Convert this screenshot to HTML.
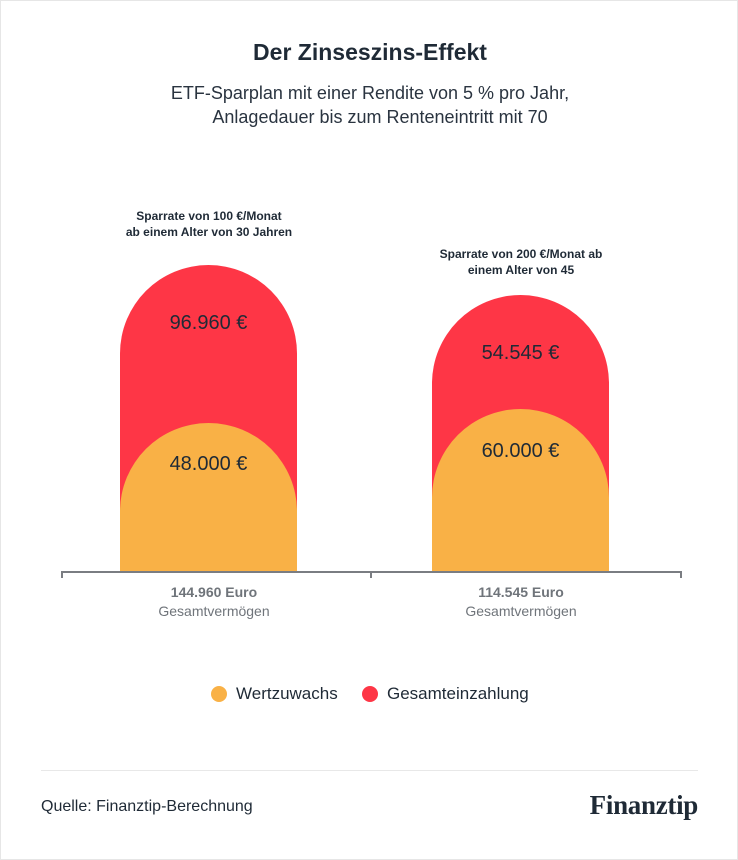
<!DOCTYPE html>
<html><head><meta charset="utf-8"><style>
body{margin:0;background:#fff;}
.c{position:relative;width:736px;height:858px;border:1px solid #e6e6e6;background:#fff;font-family:"Liberation Sans",sans-serif;color:#1f2a36;overflow:hidden;}
.t{position:absolute;text-align:center;white-space:nowrap;}
.bar{position:absolute;border-radius:89px 89px 0 0;}
</style></head><body><div class="c">
<div class="t" style="left:0;width:738px;top:38px;font-size:23px;font-weight:bold;">Der Zinseszins-Effekt</div>
<div class="t" style="left:0;width:738px;top:80px;font-size:18px;line-height:24px;color:#2a3440;">ETF-Sparplan mit einer Rendite von 5 % pro Jahr,<br>&nbsp;&nbsp;&nbsp;&nbsp;Anlagedauer bis zum Renteneintritt mit 70</div>
<div class="t" style="left:108px;width:200px;top:207px;font-size:12px;font-weight:bold;line-height:16px;">Sparrate von 100 €/Monat<br>ab einem Alter von 30 Jahren</div>
<div class="t" style="left:420px;width:200px;top:245px;font-size:12px;font-weight:bold;line-height:16px;">Sparrate von 200 €/Monat ab<br>einem Alter von 45</div>
<div class="bar" style="left:119px;width:177px;top:264px;height:307px;background:#fe3646;"></div>
<div class="bar" style="left:119px;width:177px;top:422px;height:149px;background:#f9b146;"></div>
<div class="bar" style="left:431px;width:177px;top:294px;height:277px;background:#fe3646;"></div>
<div class="bar" style="left:431px;width:177px;top:408px;height:163px;background:#f9b146;"></div>
<div class="t" style="left:119px;width:177px;top:311px;font-size:20px;">96.960 €</div>
<div class="t" style="left:119px;width:177px;top:452px;font-size:20px;">48.000 €</div>
<div class="t" style="left:431px;width:177px;top:341px;font-size:20px;">54.545 €</div>
<div class="t" style="left:431px;width:177px;top:439px;font-size:20px;">60.000 €</div>
<div style="position:absolute;left:60px;top:570px;width:621px;height:2px;background:#7a7d82;"></div>
<div style="position:absolute;left:60px;top:570px;width:2px;height:7px;background:#7a7d82;"></div>
<div style="position:absolute;left:369px;top:570px;width:2px;height:7px;background:#7a7d82;"></div>
<div style="position:absolute;left:679px;top:570px;width:2px;height:7px;background:#7a7d82;"></div>
<div class="t" style="left:113px;width:200px;top:582px;font-size:14px;font-weight:bold;color:#6f747a;line-height:19px;">144.960 Euro<br><span style="font-weight:normal">Gesamtvermögen</span></div>
<div class="t" style="left:420px;width:200px;top:582px;font-size:14px;font-weight:bold;color:#6f747a;line-height:19px;">114.545 Euro<br><span style="font-weight:normal">Gesamtvermögen</span></div>
<div style="position:absolute;left:210px;top:685px;width:16px;height:16px;border-radius:50%;background:#f9b146;"></div>
<div class="t" style="left:235px;top:683px;font-size:17px;">Wertzuwachs</div>
<div style="position:absolute;left:361px;top:685px;width:16px;height:16px;border-radius:50%;background:#fe3646;"></div>
<div class="t" style="left:386px;top:683px;font-size:17px;">Gesamteinzahlung</div>
<div style="position:absolute;left:40px;top:769px;width:657px;height:1px;background:#e8e8e8;"></div>
<div class="t" style="left:40px;top:797px;font-size:16px;">Quelle: Finanztip-Berechnung</div>
<div class="t" style="right:39px;top:789px;font-size:27px;font-weight:bold;font-family:'Liberation Serif',serif;letter-spacing:-0.3px;">Finanztip</div>
</div></body></html>
